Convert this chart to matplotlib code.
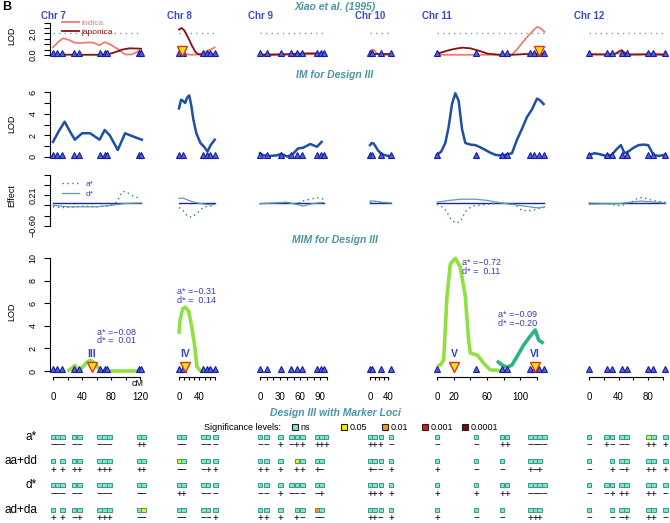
"""
Figura B: perfis de LOD (Xiao et al. 1995, IM e MIM do Design III) para os
cromossomos 7-12 e o painel de significância por marcador.
"""

import matplotlib
matplotlib.use("Agg")
import matplotlib.pyplot as plt
import matplotlib.transforms as mtransforms
from matplotlib.patches import Rectangle

plt.rcParams["font.family"] = ["Liberation Sans", "DejaVu Sans"]

W, H, DPI = 670, 523, 100

# ---------------------------------------------------------------- dados
CHROMS = ["Chr 7", "Chr 8", "Chr 9", "Chr 10", "Chr 11", "Chr 12"]
MARKERS = [
    [0, 6, 13, 29, 36, 64, 71, 74, 118, 121],
    [0, 7, 48, 55, 61, 71],
    [0, 10, 31, 47, 55, 63, 85, 91, 95],
    [0, 4, 24, 47],
    [0, 47, 78, 84, 112, 117, 123, 129],
    [0, 24, 31, 44, 51, 80, 87, 103],
]
AXIS_END = [120, 70, 100, 40, 120, 100]
TICK_STEP = [20, 10, 10, 10, 20, 20]
TICK_LABELED = [[0, 40, 80, 120], [0, 40], [0, 30, 60, 90], [0, 40],
                [0, 20, 60, 100], [0, 40, 80]]

# Xiao et al. (1995)
IND_CM = [
    [0, 7, 14, 22, 29, 36, 45, 55, 64, 71, 78, 89, 99, 108, 121],
    [0, 8, 16, 26, 36, 48, 56, 64, 70],
    [0, 30, 60, 95],
    [0, 4, 9, 14, 20, 30, 47],
    [0, 20, 40, 60, 80, 90, 96, 102, 108, 114, 120, 124, 129],
    [0, 20, 40, 55, 70, 85, 95, 103],
]
IND_LOD = [
    [0.7, 1.2, 1.55, 1.4, 1.15, 1.1, 1.15, 1.15, 0.9, 1.2, 1.0, 0.55, 0.05, 0.05, 0.45],
    [0.5, 0.3, 0.05, 0.02, 0.05, 0.2, 0.4, 0.55, 0.7],
    [0.05, 0.1, 0.05, 0.1],
    [0.25, 0.5, 0.45, 0.2, 0.03, 0.02, 0.02],
    [0.02, 0.02, 0.02, 0.02, 0.02, 0.05, 0.5, 1.1, 1.65, 2.15, 2.6, 2.5, 2.15],
    [0.1, 0.05, 0.15, 0.02, 0.05, 0.15, 0.1, 0.05],
]
JAP_CM = [
    [0, 20, 40, 60, 75, 85, 95, 105, 115, 121],
    [0, 5, 10, 18, 26, 32, 38, 50, 60, 70],
    [0, 20, 40, 55, 70, 85, 95],
    [0, 47],
    [0, 10, 20, 30, 40, 50, 61, 75, 90, 110, 129],
    [0, 20, 35, 40, 44, 48, 55, 70, 85, 103],
]
JAP_LOD = [
    [0.05, 0.03, 0.02, 0.02, 0.05, 0.25, 0.5, 0.62, 0.6, 0.58],
    [2.35, 2.5, 2.3, 1.6, 0.8, 0.3, 0.05, 0.05, 0.1, 0.05],
    [0.02, 0.02, 0.05, 0.12, 0.15, 0.15, 0.1],
    [0.05, 0.05],
    [0.1, 0.35, 0.55, 0.68, 0.62, 0.4, 0.12, 0.02, 0.02, 0.1, 0.12],
    [0.05, 0.05, 0.1, 0.3, 0.45, 0.2, 0.05, 0.05, 0.05, 0.02],
]
XIAO_THRESHOLD = 2.0
XIAO_QTL_CHR = [1, 4]
XIAO_QTL_CM = [5, 123]

# IM for Design III
IM_CM = [
    [0, 8, 16, 23, 30, 40, 51, 64, 71, 78, 89, 99, 110, 122],
    [0, 4, 8, 12, 16, 20, 24, 28, 34, 42, 50, 56, 62, 70],
    [0, 5, 15, 25, 32, 40, 47, 57, 64, 75, 85, 92],
    [0, 4, 8, 12, 18, 24, 30, 40, 47],
    [0, 5, 10, 14, 18, 22, 26, 30, 34, 40, 46, 52, 58, 64, 70, 76, 82,
     90, 96, 102, 108, 114, 120, 123, 128],
    [0, 8, 15, 22, 31, 37, 43, 48, 53, 60, 67, 74, 80, 84, 87, 94, 103],
]
IM_LOD = [
    [1.4, 2.4, 3.27, 2.4, 1.6, 2.2, 2.2, 1.6, 2.5, 2.0, 0.65, 2.2, 1.9, 1.6],
    [4.5, 5.3, 5.2, 5.0, 5.5, 5.7, 4.8, 3.5, 2.2, 1.3, 0.9, 0.5, 1.1, 1.6],
    [0.35, 0.15, 0.1, 0.15, 0.3, 0.05, 0.15, 0.8, 0.85, 1.2, 0.95, 1.4],
    [1.1, 1.3, 1.25, 1.0, 0.6, 0.35, 0.2, 0.1, 0.1],
    [0.2, 0.5, 1.3, 2.8, 4.9, 5.9, 5.2, 2.6, 1.3, 1.15, 1.1, 0.9, 0.65, 0.4,
     0.2, 0.15, 0.2, 0.35, 1.6, 2.6, 3.7, 4.4, 5.4, 5.3, 4.9],
    [0.2, 0.35, 0.25, 0.12, 0.2, 0.7, 1.1, 0.35, 0.5, 0.85, 1.1, 1.15, 1.1,
     0.6, 0.2, 0.1, 0.2],
]

# efeitos (a* pontilhado, d* contínuo)
A_CM = [
    [0, 15, 30, 45, 60, 75, 85, 90, 95, 100, 108, 115, 121],
    [0, 8, 15, 25, 35, 49, 62, 70],
    [0, 20, 40, 55, 65, 75, 85, 95],
    [0, 10, 25, 47],
    [0, 5, 10, 16, 22, 28, 34, 42, 54, 61, 75, 90, 96, 102, 114, 122, 129],
    [0, 20, 35, 43, 50, 60, 65, 72, 80, 90, 103],
]
A_EFF = [
    [-0.1, -0.12, -0.1, -0.08, -0.1, -0.08, -0.02, 0.1, 0.3, 0.3, 0.2, 0.15, 0.12],
    [-0.12, -0.2, -0.32, -0.38, -0.27, -0.1, -0.08, -0.06],
    [-0.02, 0.0, 0.02, -0.02, 0.06, 0.1, 0.14, 0.1],
    [0.02, 0.04, 0.02, 0.0],
    [-0.03, -0.08, -0.18, -0.4, -0.53, -0.49, -0.23, -0.08, -0.05, -0.03, 0.0,
     -0.02, -0.08, -0.2, -0.2, -0.14, -0.12],
    [0.0, -0.02, -0.05, -0.08, -0.02, 0.05, 0.12, 0.15, 0.1, 0.05, 0.02],
]
D_CM = [
    [0, 20, 40, 60, 80, 100, 121],
    [0, 8, 15, 25, 36, 50, 62, 70],
    [0, 20, 40, 55, 65, 75, 85, 95],
    [0, 10, 25, 47],
    [0, 15, 30, 45, 60, 75, 90, 102, 114, 122, 129],
    [0, 20, 40, 55, 70, 85, 103],
]
D_EFF = [
    [-0.06, -0.1, -0.1, -0.1, -0.06, -0.01, 0.0],
    [0.12, 0.13, 0.09, 0.04, 0.0, -0.03, -0.05, -0.04],
    [-0.02, 0.0, 0.02, -0.04, -0.08, -0.03, 0.0, 0.01],
    [0.05, 0.05, 0.02, 0.0],
    [0.02, 0.07, 0.1, 0.1, 0.07, 0.01, -0.04, -0.07, -0.11, -0.13, -0.1],
    [-0.03, -0.02, -0.02, 0.02, 0.05, 0.03, 0.0],
]

# MIM for Design III
MIM_CM = [
    [20, 25, 30, 34, 40, 46, 51, 56, 62, 67, 80, 100, 121],
    [0, 2, 7, 12, 19, 25, 31, 35, 42, 55, 70],
    [], [],
    [0, 5, 8, 12, 16, 22, 28, 34, 38, 40, 44, 48, 52, 56, 64, 75, 86],
    [],
]
MIM_LOD = [
    [0.0, 0.2, 0.5, 0.05, 0.3, 0.75, 0.95, 0.75, 0.3, 0.0, 0.0, 0.0, 0.0],
    [3.3, 4.5, 5.5, 5.65, 5.3, 3.9, 2.15, 0.4, 0.0, 0.0, 0.0],
    [], [],
    [0.4, 0.6, 1.0, 6.6, 9.5, 10.0, 9.2, 6.6, 2.75, 1.6, 1.5, 1.42, 1.1, 0.68,
     0.1, 0.05, 0.1],
    [],
]
MIM_VI_CM = [72, 78, 84, 90, 96, 104, 112, 118, 122, 128]
MIM_VI_LOD = [0.9, 0.53, 0.33, 0.53, 1.27, 2.3, 3.1, 3.64, 2.75, 2.45]

QTL_NAME = ["III", "IV", "V", "VI"]
QTL_CHR = [0, 1, 4, 4]
QTL_CM = [53, 12, 21, 118]
QTL_A = [-0.08, -0.31, -0.72, -0.09]
QTL_D = [0.01, 0.14, 0.11, -0.20]
QTL_TEXT_CM = [60, -4, 30, 73]
QTL_TEXT_LOD = [3.05, 6.65, 9.2, 4.6]

# significância por marcador: n=ns, y=0.05, o=0.01, r=0.001, k=0.0001, .=ausente
ROW_NAMES = ["a*", "aa+dd", "d*", "ad+da"]
SIG_A = ["nnnnnnnnnn", "nnnn.n", "nnnnnnnnn", "nnnn", "nnnnnnnn", "nnnnnynn"]
SIGN_A = ["--------++", "----.-", "--+-+++++", "+++-", "--++----", "-+---+++"]
SIG_AADD = ["n.nnnnnnnn", "ynnn.n", "nnn.ynnn.", "nnnn", "nnn.nnn.", "n.nnnnnn"]
SIGN_AADD = ["+.++++++++", "---+.+", "+++.+++-.", "+--+", "+--.+-+.", "-.+-++++"]
SIG_D = ["nnnnnnnnnn", "nnnn.n", "nnnnnnnn.", "nnnn", "nnnnnnnn", "nnnnnnnn"]
SIGN_D = ["----------", "++--.-", "--+----+.", "++++", "++++----", "--+++++-"]
SIG_ADDA = ["n.nnnnnnny", "nnnn.n", "nnn.nnon.", "nnnn", "nnn.nnn.", "n.nnnnnn"]
SIGN_ADDA = ["+.+-++++--", "----.+", "+++.+---.", "++-+", "+--.+++.", "-.--+++-"]
LEVELS = ["ns", "0.05", "0.01", "0.001", "0.0001"]

# ---------------------------------------------------------------- estilo
CHR_X0 = [53, 179, 260, 370, 437, 589]        # pixel do 0 cM
CHR_PXCM = [0.728, 0.51, 0.67, 0.45, 0.833, 0.74]
TEAL = "#4a94a4"
CHR_BLUE = "#3a48d4"
TXT_BLUE = "#3a3ab8"
SIG_COLORS = {"n": "#80e4cb", "y": "#f2ee00", "o": "#f39a1e", "r": "#e3161b", "k": "#7a0a0a"}
SIGN_CHARS = {"+": "+", "-": "\u2212"}

fig = plt.figure(figsize=(W / DPI, H / DPI), dpi=DPI)
ov = fig.add_axes([0, 0, 1, 1])
ov.set_xlim(0, W)
ov.set_ylim(H, 0)
ov.axis("off")


def chrom_axes(i, top, bottom):
    lo = -4.8
    hi = max(AXIS_END[i], MARKERS[i][-1]) + 5
    s = CHR_PXCM[i]
    ax = fig.add_axes([(CHR_X0[i] + lo * s) / W, 1 - bottom / H,
                       (hi - lo) * s / W, (bottom - top) / H])
    ax.set_xlim(lo, hi)
    ax.set_facecolor("none")
    for sp in ax.spines.values():
        sp.set_visible(False)
    ax.set_xticks([])
    ax.set_yticks([])
    return ax


def panel_axes(i, y0, ppu, ylim):
    ax = chrom_axes(i, y0 - ylim[1] * ppu, y0 - ylim[0] * ppu)
    ax.set_ylim(*ylim)
    return ax


def y_axis(ax, ticks, labels, bounds):
    ax.spines["left"].set_visible(True)
    ax.spines["left"].set_bounds(*bounds)
    ax.spines["left"].set_linewidth(0.8)
    ax.set_yticks(ticks)
    ax.set_yticklabels(labels, rotation=90, va="center", fontsize=6.5)
    ax.tick_params(axis="y", length=4.5, width=0.8, pad=4)


def markers(ax, i):
    tr = mtransforms.offset_copy(ax.transData, fig=fig, x=0, y=1.3, units="points")
    ax.plot(MARKERS[i], [0] * len(MARKERS[i]), "^", ms=4.2, mfc="#4b62e6",
            mec="#1c1c9e", mew=0.8, clip_on=False, transform=tr, zorder=5)


def qtl_mark(ax, pos):
    tr = mtransforms.offset_copy(ax.transData, fig=fig, x=0, y=3.2, units="points")
    ax.plot([pos], [0], "v", ms=6.5, mfc="#ffe21a", mec="#e0301a", mew=1.0,
            clip_on=False, transform=tr, zorder=6)


# títulos e rótulos
ov.text(2, 7, "B", fontsize=9, fontweight="bold", va="center")
for x, y, t in [(335, 7, "Xiao et al. (1995)"), (335, 75, "IM for Design III"),
                (335, 240, "MIM for Design III"), (335, 413, "Design III with Marker Loci")]:
    ov.text(x, y, t, color=TEAL, fontsize=7.5, fontweight="bold", style="italic",
            ha="center", va="center")
for i, name in enumerate(CHROMS):
    ov.text(CHR_X0[i], 16, name, color=CHR_BLUE, fontsize=7, fontweight="bold",
            ha="center", va="center")
for y, t in [(36, "LOD"), (124, "LOD"), (196, "Effect"), (312, "LOD")]:
    ov.text(12, y, t, rotation=90, fontsize=6.5, ha="center", va="center")
ov.text(138, 384, "cM", fontsize=6.5, ha="center", va="center")

for i in range(6):
    # Xiao et al.
    ax = panel_axes(i, 55, 10.8, (-0.4, 3.2))
    ax.plot([MARKERS[i][0], MARKERS[i][-1]], [XIAO_THRESHOLD] * 2, color="#7f9fa8",
            lw=1.0, ls=(0, (1, 3)))
    ax.plot(IND_CM[i], IND_LOD[i], color="#f07b72", lw=1.3, label="indica")
    ax.plot(JAP_CM[i], JAP_LOD[i], color="#8b1010", lw=1.3, label="japonica")
    markers(ax, i)
    for c, p in zip(XIAO_QTL_CHR, XIAO_QTL_CM):
        if c == i:
            qtl_mark(ax, p)
    if i == 0:
        y_axis(ax, [0, 0.5, 1, 1.5, 2, 2.5, 3], ["0.0", "", "", "", "2.0", "", ""], (0, 3))
        ax.legend(loc="upper left", bbox_to_anchor=(62 / W, 1 - 19.5 / H),
                  bbox_transform=fig.transFigure, frameon=False, fontsize=6,
                  handlelength=2, handletextpad=0.3, labelspacing=0.1,
                  borderpad=0, borderaxespad=0, labelcolor="linecolor")

    # IM
    ax = panel_axes(i, 157, 10.8, (-0.4, 6.3))
    ax.plot(IM_CM[i], IM_LOD[i], color="#1d4fa5", lw=1.8)
    markers(ax, i)
    if i == 0:
        y_axis(ax, range(7), ["0", "", "2", "", "4", "", "6"], (0, 6))

    # efeitos
    ax = panel_axes(i, 203, 38, (-0.65, 0.8))
    ax.plot([MARKERS[i][0], MARKERS[i][-1]], [0, 0], color="#2222a8", lw=1.0)
    ax.plot(A_CM[i], A_EFF[i], color="#2e7d7d", lw=1.0, ls=(0, (1, 2.5)), label="a*")
    ax.plot(D_CM[i], D_EFF[i], color="#5f9ea0", lw=0.9, label="d*")
    if i == 0:
        y_axis(ax, [-0.60, -0.33, -0.06, 0.21, 0.48, 0.75],
               ["\u22120.60", "", "", "0.21", "", ""], (-0.6, 0.75))
        ax.legend(loc="upper left", bbox_to_anchor=(62 / W, 1 - 180 / H),
                  bbox_transform=fig.transFigure, frameon=False, fontsize=6,
                  handlelength=2, handletextpad=0.8, labelspacing=0.3,
                  borderpad=0, borderaxespad=0, labelcolor=TXT_BLUE)

    # MIM
    ax = panel_axes(i, 371, 11.27, (-0.53, 10.4))
    if MIM_CM[i]:
        ax.plot(MIM_CM[i], MIM_LOD[i], color="#90e040", lw=2.6, solid_capstyle="butt")
    if i == 4:
        ax.plot(MIM_VI_CM, MIM_VI_LOD, color="#2bb57f", lw=2.6, solid_capstyle="butt")
    markers(ax, i)
    for name, c, p, a, d, tx, ty in zip(QTL_NAME, QTL_CHR, QTL_CM, QTL_A, QTL_D,
                                        QTL_TEXT_CM, QTL_TEXT_LOD):
        if c != i:
            continue
        qtl_mark(ax, p)
        ax.annotate(name, (p, 0), xytext=(0, 12.5), textcoords="offset points",
                    ha="center", va="center", fontsize=7.5, fontweight="bold",
                    color="#3040c8")
        fa = ("\u2212" if a < 0 else "  ") + f"{abs(a):.2f}"
        fd = ("\u2212" if d < 0 else "  ") + f"{abs(d):.2f}"
        ax.text(tx, ty, f"a* ={fa}\nd* ={fd}", fontsize=6.5, color=TXT_BLUE,
                ha="left", va="center", linespacing=0.95)
    ax.spines["bottom"].set_visible(True)
    ax.spines["bottom"].set_bounds(0, AXIS_END[i])
    ax.spines["bottom"].set_linewidth(0.8)
    ticks = list(range(0, AXIS_END[i] + 1, TICK_STEP[i]))
    ax.set_xticks(ticks)
    ax.set_xticklabels([str(t) if t in TICK_LABELED[i] else "" for t in ticks], fontsize=7)
    ax.tick_params(axis="x", length=2.5, width=0.8, pad=8)
    if i == 0:
        y_axis(ax, range(0, 11, 2), ["0", "2", "4", "6", "8", "10"], (0, 10))

    # painel de marcadores
    ax = chrom_axes(i, 425, 523)
    ax.set_ylim(3.55, -0.48)
    bw = 4.6 / CHR_PXCM[i]
    bh = 4.2 / 24.3
    for r, (codes, signs) in enumerate([(SIG_A, SIGN_A), (SIG_AADD, SIGN_AADD),
                                        (SIG_D, SIGN_D), (SIG_ADDA, SIGN_ADDA)]):
        right = None
        for pos, c, sg in zip(MARKERS[i], codes[i], signs[i]):
            if c == ".":
                continue
            left = pos - bw / 2
            if right is not None and left < right:
                left = right
            ax.add_patch(Rectangle((left, r - bh / 2), bw, bh, fc=SIG_COLORS[c],
                                   ec="#3a9a8a", lw=0.7, clip_on=False))
            ax.text(left + bw / 2, r + 0.35, SIGN_CHARS[sg], fontsize=7,
                    ha="center", va="center", clip_on=False)
            right = left + bw

for r, name in enumerate(ROW_NAMES):
    ov.text(37, 436.7 + 24.3 * r, name, fontsize=8.5, ha="right", va="center")

# legenda dos níveis de significância
ov.text(204, 427, "Significance levels:", fontsize=6.5, ha="left", va="center")
for x, lev, c in zip([292, 341, 382, 422, 462], LEVELS, "nyork"):
    ov.add_patch(Rectangle((x, 424), 6, 6, fc=SIG_COLORS[c], ec="#222222", lw=0.8))
    ov.text(x + 8.5, 427, lev, fontsize=6.5, ha="left", va="center")

fig.savefig("out.png", dpi=DPI)
